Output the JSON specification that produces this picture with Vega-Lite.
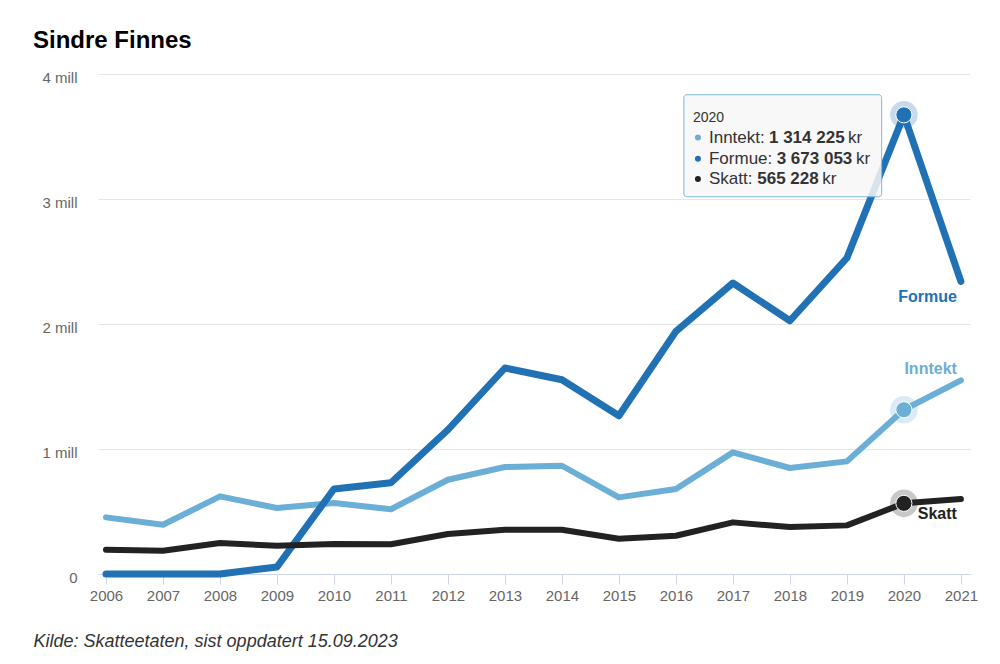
{
  "$schema": "https://vega.github.io/schema/vega-lite/v6.json",
  "width": 872,
  "height": 500,
  "autosize": {"type": "none"},
  "padding": {"left": 98, "top": 74, "right": 30, "bottom": 90},
  "background": "white",
  "config": {
    "view": {"stroke": null},
    "font": "Liberation Sans",
    "locale": {"number": {"decimal": ",", "thousands": " ", "grouping": [3], "currency": ["", " kr"]}}
  },
  "title": {
    "text": "Sindre Finnes",
    "anchor": "start",
    "frame": "group",
    "fontSize": 24,
    "fontWeight": "bold",
    "color": "#000000",
    "baseline": "alphabetic",
    "dx": -65,
    "offset": -2
  },
  "datasets": {
    "main": [
      {"year": 2006, "series": "Inntekt", "value": 453000},
      {"year": 2007, "series": "Inntekt", "value": 394000},
      {"year": 2008, "series": "Inntekt", "value": 621000},
      {"year": 2009, "series": "Inntekt", "value": 528000},
      {"year": 2010, "series": "Inntekt", "value": 568000},
      {"year": 2011, "series": "Inntekt", "value": 518000},
      {"year": 2012, "series": "Inntekt", "value": 754000},
      {"year": 2013, "series": "Inntekt", "value": 856000},
      {"year": 2014, "series": "Inntekt", "value": 866000},
      {"year": 2015, "series": "Inntekt", "value": 613000},
      {"year": 2016, "series": "Inntekt", "value": 680000},
      {"year": 2017, "series": "Inntekt", "value": 973000},
      {"year": 2018, "series": "Inntekt", "value": 848000},
      {"year": 2019, "series": "Inntekt", "value": 901000},
      {"year": 2020, "series": "Inntekt", "value": 1314225},
      {"year": 2021, "series": "Inntekt", "value": 1549000},
      {"year": 2006, "series": "Formue", "value": 0},
      {"year": 2007, "series": "Formue", "value": 0},
      {"year": 2008, "series": "Formue", "value": 0},
      {"year": 2009, "series": "Formue", "value": 56000},
      {"year": 2010, "series": "Formue", "value": 680000},
      {"year": 2011, "series": "Formue", "value": 730000},
      {"year": 2012, "series": "Formue", "value": 1154000},
      {"year": 2013, "series": "Formue", "value": 1648000},
      {"year": 2014, "series": "Formue", "value": 1554000},
      {"year": 2015, "series": "Formue", "value": 1266000},
      {"year": 2016, "series": "Formue", "value": 1941000},
      {"year": 2017, "series": "Formue", "value": 2328000},
      {"year": 2018, "series": "Formue", "value": 2026000},
      {"year": 2019, "series": "Formue", "value": 2528000},
      {"year": 2020, "series": "Formue", "value": 3673053},
      {"year": 2021, "series": "Formue", "value": 2341000},
      {"year": 2006, "series": "Skatt", "value": 194000},
      {"year": 2007, "series": "Skatt", "value": 186000},
      {"year": 2008, "series": "Skatt", "value": 248000},
      {"year": 2009, "series": "Skatt", "value": 226000},
      {"year": 2010, "series": "Skatt", "value": 240000},
      {"year": 2011, "series": "Skatt", "value": 238000},
      {"year": 2012, "series": "Skatt", "value": 320000},
      {"year": 2013, "series": "Skatt", "value": 354000},
      {"year": 2014, "series": "Skatt", "value": 354000},
      {"year": 2015, "series": "Skatt", "value": 282000},
      {"year": 2016, "series": "Skatt", "value": 306000},
      {"year": 2017, "series": "Skatt", "value": 413000},
      {"year": 2018, "series": "Skatt", "value": 376000},
      {"year": 2019, "series": "Skatt", "value": 389000},
      {"year": 2020, "series": "Skatt", "value": 565228},
      {"year": 2021, "series": "Skatt", "value": 600000}
    ]
  },
  "data": {"name": "main"},
  "encoding": {
    "x": {
      "field": "year",
      "type": "quantitative",
      "scale": {"domain": [2005.86, 2021.16], "nice": false, "zero": false},
      "axis": {
        "values": [2006, 2007, 2008, 2009, 2010, 2011, 2012, 2013, 2014, 2015, 2016, 2017, 2018, 2019, 2020, 2021],
        "format": "d",
        "grid": false,
        "domainColor": "#ccd6eb",
        "tickColor": "#ccd6eb",
        "tickSize": 10,
        "labelPadding": 4,
        "labelFontSize": 15,
        "labelColor": "#666666",
        "title": "Kilde: Skatteetaten, sist oppdatert 15.09.2023",
        "titleAnchor": "start",
        "titleAlign": "left",
        "titleBaseline": "alphabetic",
        "titleX": -65,
        "titleY": 72.7,
        "titleFontStyle": "italic",
        "titleFontWeight": "normal",
        "titleFontSize": 18,
        "titleColor": "#333333"
      }
    },
    "y": {
      "field": "value",
      "type": "quantitative",
      "scale": {"domain": [0, 4000000], "nice": false},
      "axis": {
        "values": [0, 1000000, 2000000, 3000000, 4000000],
        "labelExpr": "datum.value == 0 ? '0' : (datum.value / 1000000) + ' mill'",
        "domain": false,
        "ticks": false,
        "gridColor": "#e6e6e6",
        "labelPadding": 21,
        "labelOffset": 3,
        "labelFontSize": 15,
        "labelColor": "#666666",
        "title": null
      }
    },
    "color": {
      "field": "series",
      "type": "nominal",
      "scale": {"domain": ["Inntekt", "Formue", "Skatt"], "range": ["#6baed6", "#2171b5", "#222222"]},
      "legend": null
    }
  },
  "layer": [
    {
      "transform": [{"filter": "datum.series == 'Inntekt'"}],
      "mark": {"type": "line", "strokeWidth": 6, "strokeCap": "round", "strokeJoin": "round"}
    },
    {
      "transform": [{"filter": "datum.series == 'Formue'"}],
      "mark": {"type": "line", "strokeWidth": 7, "strokeCap": "round", "strokeJoin": "round"}
    },
    {
      "transform": [{"filter": "datum.series == 'Skatt'"}],
      "mark": {"type": "line", "strokeWidth": 6, "strokeCap": "round", "strokeJoin": "round"}
    },
    {
      "transform": [{"filter": "datum.year == 2020"}],
      "mark": {"type": "point", "filled": true, "size": 760, "opacity": 0.25}
    },
    {
      "transform": [{"filter": "datum.year == 2020"}],
      "mark": {"type": "point", "filled": true, "size": 260, "opacity": 1, "stroke": "white", "strokeWidth": 1}
    },
    {
      "transform": [{"filter": "datum.year == 2021 && datum.series == 'Formue'"}],
      "mark": {"type": "text", "align": "right", "baseline": "alphabetic", "fontSize": 16, "fontWeight": "bold", "dx": -4, "dy": 21},
      "encoding": {"text": {"field": "series"}}
    },
    {
      "transform": [{"filter": "datum.year == 2021 && datum.series == 'Inntekt'"}],
      "mark": {"type": "text", "align": "right", "baseline": "alphabetic", "fontSize": 16, "fontWeight": "bold", "dx": -4, "dy": -6.7},
      "encoding": {"text": {"field": "series"}}
    },
    {
      "transform": [{"filter": "datum.year == 2021 && datum.series == 'Skatt'"}],
      "mark": {"type": "text", "align": "right", "baseline": "alphabetic", "fontSize": 16, "fontWeight": "bold", "dx": -4, "dy": 20},
      "encoding": {"text": {"field": "series"}}
    },
    {
      "transform": [{"filter": "datum.year == 2020 && datum.series == 'Formue'"}],
      "mark": {"type": "rect", "fill": "#f7f7f7", "fillOpacity": 0.85, "stroke": "#7ab8dc", "strokeWidth": 1, "cornerRadius": 3},
      "encoding": {
        "x": {"datum": 2016.14, "type": "quantitative"},
        "x2": {"datum": 2019.61},
        "y": {"datum": 3834000, "type": "quantitative"},
        "y2": {"datum": 3018000},
        "color": {"value": "#f7f7f7"}
      }
    },
    {
      "transform": [{"filter": "datum.year == 2020 && datum.series == 'Formue'"}],
      "mark": {"type": "text", "align": "left", "baseline": "alphabetic", "fontSize": 14},
      "encoding": {
        "x": {"datum": 2016.30, "type": "quantitative"},
        "y": {"datum": 3616000, "type": "quantitative"},
        "text": {"field": "year", "type": "quantitative", "format": "d"},
        "color": {"value": "#333333"}
      }
    },
    {
      "transform": [{"filter": "datum.year == 2020 && datum.series == 'Inntekt'"}],
      "encoding": {
        "x": {"datum": 2016.58, "type": "quantitative"},
        "y": {"datum": 3448000, "type": "quantitative"},
        "color": {"value": "#333333"}
      },
      "layer": [
        {"mark": {"type": "point", "filled": true, "size": 36, "opacity": 1}, "encoding": {"x": {"datum": 2016.386, "type": "quantitative"}, "y": {"datum": 3492800, "type": "quantitative"}, "color": {"value": "#6baed6"}}},
        {"mark": {"type": "text", "align": "left", "baseline": "alphabetic", "fontSize": 17}, "encoding": {"text": {"value": "Inntekt:"}}},
        {"mark": {"type": "text", "align": "left", "baseline": "alphabetic", "fontSize": 17, "fontWeight": "bold", "dx": 60}, "encoding": {"text": {"field": "value", "type": "quantitative", "format": ",d"}}},
        {"mark": {"type": "text", "align": "left", "baseline": "alphabetic", "fontSize": 17, "dx": 139}, "encoding": {"text": {"value": "kr"}}}
      ]
    },
    {
      "transform": [{"filter": "datum.year == 2020 && datum.series == 'Formue'"}],
      "encoding": {
        "x": {"datum": 2016.58, "type": "quantitative"},
        "y": {"datum": 3282000, "type": "quantitative"},
        "color": {"value": "#333333"}
      },
      "layer": [
        {"mark": {"type": "point", "filled": true, "size": 36, "opacity": 1}, "encoding": {"x": {"datum": 2016.386, "type": "quantitative"}, "y": {"datum": 3322400, "type": "quantitative"}, "color": {"value": "#2171b5"}}},
        {"mark": {"type": "text", "align": "left", "baseline": "alphabetic", "fontSize": 17}, "encoding": {"text": {"value": "Formue:"}}},
        {"mark": {"type": "text", "align": "left", "baseline": "alphabetic", "fontSize": 17, "fontWeight": "bold", "dx": 67.7}, "encoding": {"text": {"field": "value", "type": "quantitative", "format": ",d"}}},
        {"mark": {"type": "text", "align": "left", "baseline": "alphabetic", "fontSize": 17, "dx": 147}, "encoding": {"text": {"value": "kr"}}}
      ]
    },
    {
      "transform": [{"filter": "datum.year == 2020 && datum.series == 'Skatt'"}],
      "encoding": {
        "x": {"datum": 2016.58, "type": "quantitative"},
        "y": {"datum": 3122000, "type": "quantitative"},
        "color": {"value": "#333333"}
      },
      "layer": [
        {"mark": {"type": "point", "filled": true, "size": 36, "opacity": 1}, "encoding": {"x": {"datum": 2016.386, "type": "quantitative"}, "y": {"datum": 3160000, "type": "quantitative"}, "color": {"value": "#222222"}}},
        {"mark": {"type": "text", "align": "left", "baseline": "alphabetic", "fontSize": 17}, "encoding": {"text": {"value": "Skatt:"}}},
        {"mark": {"type": "text", "align": "left", "baseline": "alphabetic", "fontSize": 17, "fontWeight": "bold", "dx": 48.3}, "encoding": {"text": {"field": "value", "type": "quantitative", "format": ",d"}}},
        {"mark": {"type": "text", "align": "left", "baseline": "alphabetic", "fontSize": 17, "dx": 113.3}, "encoding": {"text": {"value": "kr"}}}
      ]
    }
  ]
}
